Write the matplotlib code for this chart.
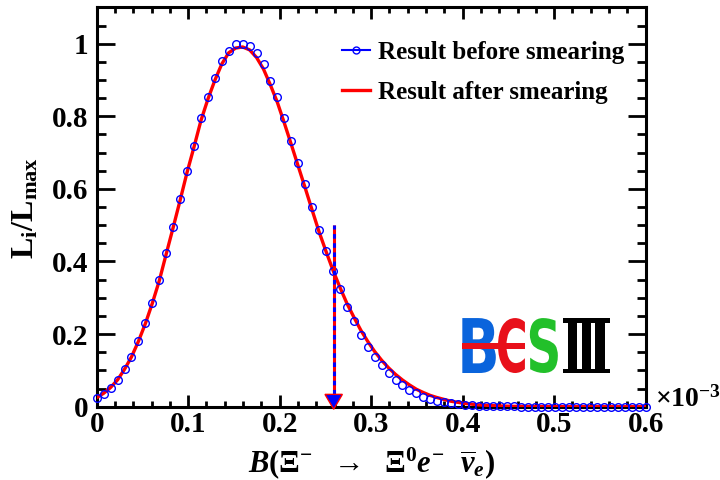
import matplotlib
matplotlib.use("Agg")
import matplotlib.pyplot as plt
from matplotlib.lines import Line2D
from matplotlib.patches import Polygon, PathPatch, Rectangle
from matplotlib.textpath import TextPath
from matplotlib.font_manager import FontProperties
from matplotlib.transforms import Affine2D
from matplotlib.ticker import MultipleLocator, FuncFormatter

plt.rcParams["font.family"] = ["Liberation Serif", "DejaVu Serif"]
plt.rcParams["font.weight"] = "bold"
plt.rcParams["mathtext.fontset"] = "custom"
plt.rcParams["mathtext.rm"] = "Liberation Serif:bold"
plt.rcParams["mathtext.bf"] = "Liberation Serif:bold"
plt.rcParams["mathtext.it"] = "Liberation Serif:bold:italic"

# Scan points of the branching fraction (units of 1e-3)
branching = [
    0.0000, 0.0076, 0.0152, 0.0228, 0.0304, 0.0380, 0.0456, 0.0532, 0.0608, 0.0684,
    0.0759, 0.0835, 0.0911, 0.0987, 0.1063, 0.1139, 0.1215, 0.1291, 0.1367, 0.1443,
    0.1519, 0.1595, 0.1671, 0.1747, 0.1823, 0.1899, 0.1975, 0.2051, 0.2127, 0.2203,
    0.2278, 0.2354, 0.2430, 0.2506, 0.2582, 0.2658, 0.2734, 0.2810, 0.2886, 0.2962,
    0.3038, 0.3114, 0.3190, 0.3266, 0.3342, 0.3418, 0.3494, 0.3570, 0.3646, 0.3722,
    0.3797, 0.3873, 0.3949, 0.4025, 0.4101, 0.4177, 0.4253, 0.4329, 0.4405, 0.4481,
    0.4557, 0.4633, 0.4709, 0.4785, 0.4861, 0.4937, 0.5013, 0.5089, 0.5165, 0.5241,
    0.5316, 0.5392, 0.5468, 0.5544, 0.5620, 0.5696, 0.5772, 0.5848, 0.5924, 0.6000,
]

# Normalised likelihood before smearing
likelihood_before = [
    0.023, 0.035, 0.052, 0.0735, 0.103, 0.136, 0.180, 0.230, 0.2865, 0.349,
    0.423, 0.496, 0.571, 0.649, 0.719, 0.795, 0.853, 0.906, 0.952, 0.981,
    1.000, 1.000, 0.994, 0.973, 0.943, 0.897, 0.853, 0.795, 0.733, 0.671,
    0.613, 0.549, 0.487, 0.430, 0.375, 0.324, 0.2755, 0.235, 0.1975, 0.165,
    0.138, 0.115, 0.094, 0.0735, 0.060, 0.046, 0.037, 0.0275, 0.021, 0.016,
    0.012, 0.009, 0.0065, 0.005, 0.0035, 0.0025, 0.002, 0.0015, 0.001, 0.0008,
    0.0006, 0.0005, 0.0004, 0.0003, 0.0002, 0.0001, 0.0001, 0.0001, 0.0, 0.0,
    0.0, 0.0, 0.0, 0.0, 0.0, 0.0, 0.0, 0.0, 0.0, 0.0,
]

# Normalised likelihood after smearing
likelihood_after = [
    0.025, 0.037, 0.053, 0.074, 0.103, 0.137, 0.180, 0.229, 0.285, 0.347,
    0.420, 0.493, 0.568, 0.645, 0.715, 0.788, 0.847, 0.899, 0.944, 0.975,
    0.988, 0.991, 0.983, 0.962, 0.930, 0.886, 0.838, 0.781, 0.722, 0.662,
    0.603, 0.542, 0.482, 0.428, 0.376, 0.329, 0.285, 0.247, 0.211, 0.180,
    0.152, 0.128, 0.107, 0.089, 0.0735, 0.060, 0.048, 0.039, 0.031, 0.025,
    0.020, 0.015, 0.012, 0.009, 0.007, 0.005, 0.004, 0.003, 0.002, 0.0015,
    0.001, 0.0008, 0.0006, 0.0004, 0.0003, 0.0002, 0.0001, 0.0001, 0.0, 0.0,
    0.0, 0.0, 0.0, 0.0, 0.0, 0.0, 0.0, 0.0, 0.0, 0.0,
]

upper_limit = 0.259
arrow_top = 0.5

legend_labels = ["Result before smearing", "Result after smearing"]
xticks = [0.0, 0.1, 0.2, 0.3, 0.4, 0.5, 0.6]
yticks = [0.0, 0.2, 0.4, 0.6, 0.8, 1.0]

fig = plt.figure(figsize=(7.2, 4.8), dpi=100)
ax = fig.add_axes([0.1343, 0.1527, 0.7625, 0.8319])

ax.plot(branching, likelihood_after, color="red", lw=2.4, zorder=3)
ax.plot(branching, likelihood_before, ls="none", marker="o", ms=5.5,
        mfc="none", mec="blue", mew=1.0, zorder=4, clip_on=False)

# Upper-limit arrow
head_h = 0.034
ax.plot([upper_limit, upper_limit], [head_h, arrow_top], color="red", lw=2.2,
        zorder=5, solid_capstyle="butt")
ax.plot([upper_limit, upper_limit], [head_h, arrow_top], color="blue", lw=2.2,
        ls=(0, (1.5, 1.5)), zorder=6, dash_capstyle="butt")
ax.add_patch(Polygon([[upper_limit - 0.0095, head_h], [upper_limit + 0.0095, head_h],
                      [upper_limit, -0.007]], closed=True, fc="blue", ec="red",
                     lw=1.0, zorder=7, clip_on=False))

ax.set_xlim(0, 0.6)
ax.set_ylim(0, 1.1)
ax.set_xticks(xticks)
ax.set_yticks(yticks)
ax.xaxis.set_minor_locator(MultipleLocator(0.02))
ax.yaxis.set_minor_locator(MultipleLocator(0.05))
fmt = FuncFormatter(lambda v, p: f"{v:g}")
ax.xaxis.set_major_formatter(fmt)
ax.yaxis.set_major_formatter(fmt)

for s in ax.spines.values():
    s.set_linewidth(2.2)
ax.tick_params(which="both", direction="in", top=True, right=True, width=2,
               labelsize=21)
ax.tick_params(axis="x", which="major", length=8.6, pad=3)
ax.tick_params(axis="x", which="minor", length=4.3)
ax.tick_params(axis="y", which="major", length=12.7, pad=6)
ax.tick_params(axis="y", which="minor", length=6.5)

ax.set_xlabel(r"$B(\mathit{Ξ}^{-}\ \ \rightarrow\ \ \mathit{Ξ}^{0}e^{-}\ \ \overline{\nu}_{e})$",
              fontsize=22)
ax.xaxis.set_label_coords(0.5, -0.141)
ax.xaxis.label.set_verticalalignment("center")
ax.set_ylabel(r"$\mathrm{L_{i}/L_{max}}$", fontsize=23)
ax.yaxis.set_label_coords(-0.129, 0.497)
ax.yaxis.label.set_verticalalignment("center")
ax.yaxis.label.set_horizontalalignment("center")

ax.text(1.017, 0.0, r"$\times\mathrm{10^{-3}}$", transform=ax.transAxes,
        ha="left", va="baseline", fontsize=20)

h1 = Line2D([], [], color="blue", lw=1.5, marker="o", ms=5, mfc="none", mec="blue")
h2 = Line2D([], [], color="red", lw=2.4)
ax.legend([h1, h2], legend_labels, loc="upper left", bbox_to_anchor=(0.447, 0.917),
          frameon=False, fontsize=18, handlelength=1.12, handletextpad=0.32,
          labelspacing=0.7, borderpad=0, borderaxespad=0)


def logo_glyph(ch, box, color, family):
    tp = TextPath((0, 0), ch, size=100, prop=FontProperties(family=family, weight="bold"))
    ext = tp.get_extents()
    x0, y0, x1, y1 = box
    tr = (Affine2D().translate(-ext.x0, -ext.y0)
          .scale((x1 - x0) / ext.width, (y1 - y0) / ext.height)
          .translate(x0, y0) + ax.transAxes)
    ax.add_patch(PathPatch(tp, transform=tr, fc=color, ec="none", zorder=8))


logo_glyph("B", (0.666, 0.0844, 0.727, 0.222), "#0a64dc", "DejaVu Sans")
logo_glyph("C", (0.731, 0.0844, 0.780, 0.222), "#e8101a", "DejaVu Sans")
logo_glyph("S", (0.789, 0.0844, 0.840, 0.222), "#22c02a", "DejaVu Sans")
logo_glyph("\u2162", (0.849, 0.0844, 0.935, 0.222), "black", "DejaVu Serif")
ax.add_patch(Rectangle((0.666, 0.1445), 0.114, 0.015, transform=ax.transAxes,
                       fc="#e8101a", ec="none", zorder=9))

fig.savefig("out.png", dpi=100)
